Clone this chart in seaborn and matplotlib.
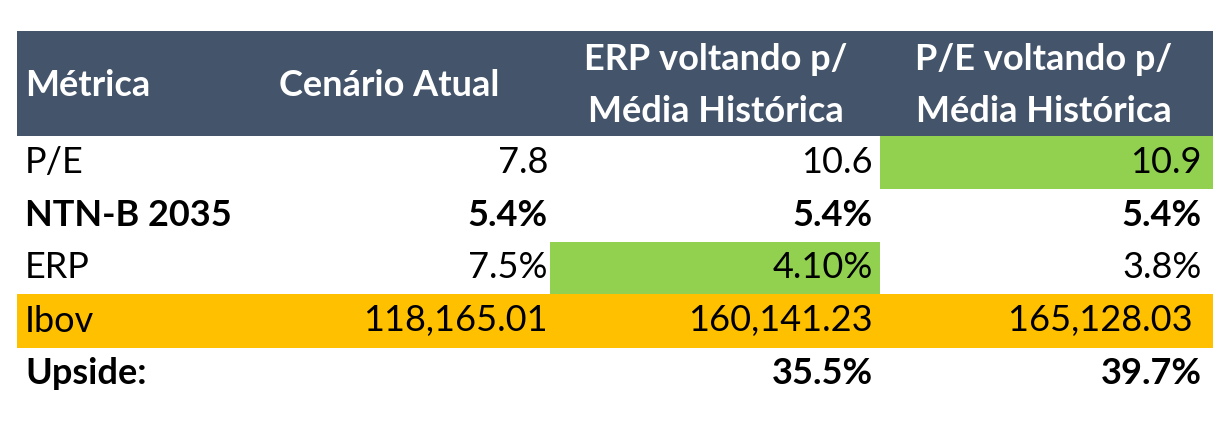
import matplotlib
matplotlib.use("Agg")
import matplotlib.pyplot as plt
from matplotlib.patches import Rectangle
import seaborn as sns

# table contents
headers = ["Métrica", "Cenário Atual", "ERP voltando p/\nMédia Histórica", "P/E voltando p/\nMédia Histórica"]
metrics = ["P/E", "NTN-B 2035", "ERP", "Ibov", "Upside:"]
cenario_atual = ["7.8", "5.4%", "7.5%", "118,165.01", ""]
erp_media = ["10.6", "5.4%", "4.10%", "160,141.23", "35.5%"]
pe_media = ["10.9", "5.4%", "3.8%", "165,128.03 ", "39.7%"]
bold_rows = ["NTN-B 2035", "Upside:"]

HEADER_BG = "#44546A"
GREEN = "#92D050"
ORANGE = "#FFC000"

sns.set_theme(style="white")
plt.rcParams['font.family'] = ['Lato', 'DejaVu Sans']

fig = plt.figure(figsize=(12.32, 4.22), dpi=100)
ax = fig.add_axes([0, 0, 1, 1])
ax.set_xlim(0, 1232)
ax.set_ylim(422, 0)
ax.axis('off')

left, right = 17, 1213
col_edges = [17, 270, 550, 880, 1213]
col_text_x = [25, 548, 873, 1202]
row_edges = [136, 189, 242, 294, 348, 400]
fs = 26

# header band
ax.add_patch(Rectangle((left, 31), right - left, 136 - 31, color=HEADER_BG, lw=0))
ax.text(col_text_x[0], 85, headers[0], color="white", fontsize=fs, fontweight="bold", va="center", ha="left")
ax.text(389, 85, headers[1], color="white", fontsize=fs, fontweight="bold", va="center", ha="center")
for i, cx in [(2, 716), (3, 1044)]:
    top, bottom = headers[i].split("\n")
    ax.text(cx, 60, top, color="white", fontsize=fs, fontweight="bold", va="center", ha="center")
    ax.text(cx, 111, bottom, color="white", fontsize=fs, fontweight="bold", va="center", ha="center")

# cell fills
ibov = metrics.index("Ibov")
ax.add_patch(Rectangle((left, row_edges[ibov]), right - left, row_edges[ibov + 1] - row_edges[ibov], color=ORANGE, lw=0))
pe = metrics.index("P/E")
ax.add_patch(Rectangle((col_edges[3], row_edges[pe]), col_edges[4] - col_edges[3], row_edges[pe + 1] - row_edges[pe], color=GREEN, lw=0))
erp = metrics.index("ERP")
ax.add_patch(Rectangle((col_edges[2], row_edges[erp]), col_edges[3] - col_edges[2], row_edges[erp + 1] - row_edges[erp], color=GREEN, lw=0))

# body text
for r, name in enumerate(metrics):
    yc = (row_edges[r] + row_edges[r + 1]) / 2
    w = "bold" if name in bold_rows else "normal"
    ax.text(col_text_x[0], yc, name, fontsize=fs, fontweight=w, va="center", ha="left", color="black")
    for c, col in enumerate([cenario_atual, erp_media, pe_media], start=1):
        ax.text(col_text_x[c], yc, col[r], fontsize=fs, fontweight=w, va="center", ha="right", color="black")

fig.savefig("out.png", dpi=100, facecolor="white")
